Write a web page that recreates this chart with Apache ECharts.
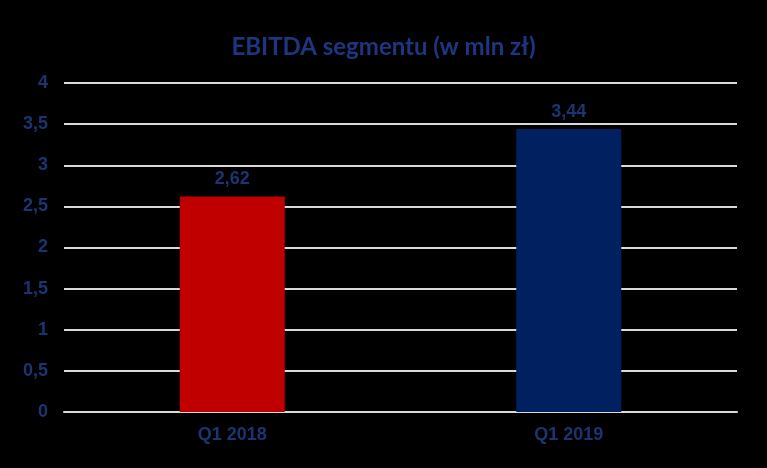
<!DOCTYPE html>
<html><head><meta charset="utf-8">
<script src="https://cdn.jsdelivr.net/npm/echarts@6/dist/echarts.min.js"></script>
<style>html,body{margin:0;padding:0;background:#000;}#c{width:767px;height:468px;}</style>
</head><body><div id="c"></div>
<script>
const categories = ['Q1 2018', 'Q1 2019'];
const values = [2.62, 3.44];
const barColors = ['#C00000', '#002060'];
const titleText = 'EBITDA segmentu (w mln zł)';
const txt = '#1b3472';
const fmt = v => String(v).replace('.', ',');
const chart = echarts.init(document.getElementById('c'));
chart.setOption({
  backgroundColor: '#000',
  animation: false,
  title: { text: titleText, left: 'center', top: 30,
    textStyle: { color: '#1c3780', fontSize: 24, fontWeight: 'bold', fontFamily: 'Lato' } },
  grid: { left: 64, right: 30, top: 83, bottom: 56 },
  xAxis: { type: 'category', data: categories,
    axisLine: { lineStyle: { color: '#d9d9d9', width: 2 } },
    axisTick: { show: false },
    axisLabel: { color: txt, fontSize: 18, fontWeight: 'bold', fontFamily: 'Liberation Sans', margin: 14 } },
  yAxis: { type: 'value', min: 0, max: 4, interval: 0.5,
    axisLine: { show: false }, axisTick: { show: false },
    splitLine: { lineStyle: { color: '#d9d9d9', width: 2 } },
    axisLabel: { color: txt, fontSize: 18, fontWeight: 'bold', fontFamily: 'Liberation Sans', margin: 16,
      formatter: v => fmt(v) } },
  series: [{ type: 'bar', barWidth: 105,
    data: values.map((v, i) => ({ value: v, itemStyle: { color: barColors[i] } })),
    label: { show: true, position: 'top', distance: 8, color: txt, fontSize: 18, fontWeight: 'bold',
      fontFamily: 'Liberation Sans', formatter: p => fmt(p.value) } }]
});
</script></body></html>
